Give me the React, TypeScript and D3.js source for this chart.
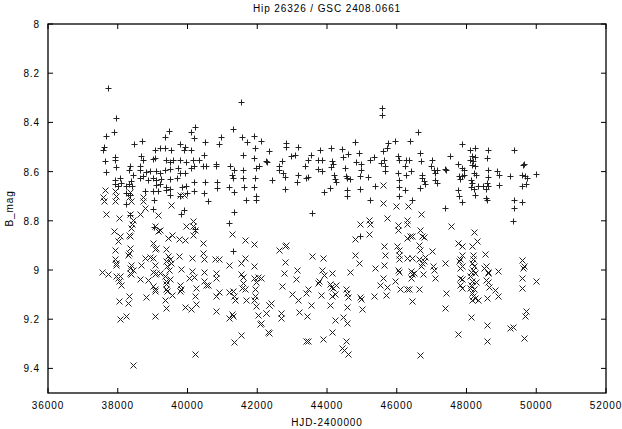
import React from "react";
import * as d3 from "d3";

const title = "Hip 26326 / GSC 2408.0661";
const xLabel = "HJD-2400000";
const yLabel = "B_mag";
const xTicks = [36000, 38000, 40000, 42000, 44000, 46000, 48000, 50000, 52000];
const yTicks = [8, 8.2, 8.4, 8.6, 8.8, 9, 9.2, 9.4];

// upper band, drawn with "+"
const plusPoints: [number, number][] = [
  [37724, 8.262], [37943, 8.383], [37886, 8.437], [37657, 8.457], [37600, 8.5], [37581, 8.511],
  [37638, 8.558], [37676, 8.602], [37914, 8.541], [37914, 8.552], [37962, 8.581], [38457, 8.489],
  [38686, 8.477], [38343, 8.576], [38324, 8.592], [38629, 8.579], [38676, 8.538], [38724, 8.552],
  [38648, 8.592], [38438, 8.612], [38800, 8.603], [37914, 8.633], [38057, 8.626], [37914, 8.649],
  [38105, 8.646], [38324, 8.649], [38390, 8.639], [38419, 8.657], [38248, 8.66], [38019, 8.66],
  [38724, 8.619], [38629, 8.626], [38867, 8.635], [39010, 8.626], [39105, 8.635], [39248, 8.63],
  [39486, 8.63], [39695, 8.626], [39010, 8.549], [39067, 8.543], [39200, 8.504], [39352, 8.506],
  [39533, 8.514], [39067, 8.512], [39362, 8.461], [39467, 8.435], [39391, 8.552], [39486, 8.56],
  [39581, 8.552], [39790, 8.552], [39962, 8.562], [39771, 8.487], [39933, 8.5], [39895, 8.512],
  [40105, 8.514], [40105, 8.437], [40229, 8.419], [40190, 8.465], [40495, 8.48], [40486, 8.531],
  [40152, 8.552], [40343, 8.552], [40200, 8.579], [40105, 8.585], [40438, 8.579], [40533, 8.579],
  [38914, 8.598], [39105, 8.598], [39200, 8.606], [39343, 8.595], [39486, 8.589], [39724, 8.585],
  [39771, 8.606], [39914, 8.606], [40819, 8.568], [40819, 8.579], [40962, 8.461], [40895, 8.488],
  [41314, 8.426], [41533, 8.319], [41552, 8.461], [41695, 8.481], [41914, 8.454], [42105, 8.477],
  [41933, 8.504], [41581, 8.533], [41895, 8.545], [42248, 8.558], [42057, 8.576], [41962, 8.585],
  [41229, 8.576], [41343, 8.592], [41581, 8.592], [39086, 8.653], [39219, 8.649], [39391, 8.664],
  [39486, 8.671], [39848, 8.664], [39962, 8.66], [40181, 8.644], [40514, 8.644], [40848, 8.644],
  [40838, 8.667], [41200, 8.662], [41314, 8.625], [41276, 8.612], [41581, 8.626], [41629, 8.662],
  [41905, 8.662], [41933, 8.626], [38248, 8.687], [38343, 8.694], [38790, 8.68], [39010, 8.68],
  [39152, 8.677], [39391, 8.673], [39486, 8.694], [39771, 8.7], [39981, 8.687], [40200, 8.68],
  [40486, 8.687], [40581, 8.721], [41343, 8.684], [41676, 8.714], [41962, 8.714], [41962, 8.698],
  [41343, 8.764], [39819, 8.771], [39886, 8.757], [39029, 8.714], [39010, 8.754], [38248, 8.73],
  [38343, 8.775], [39038, 8.825], [41181, 8.809], [41314, 8.924], [40229, 8.833],
  [42267, 8.562], [42343, 8.518], [42419, 8.635], [42628, 8.579], [42628, 8.592], [42705, 8.558],
  [42743, 8.606], [42800, 8.622], [42800, 8.671], [42819, 8.484], [42838, 8.5], [42962, 8.538],
  [43086, 8.531], [43181, 8.5], [43181, 8.612], [43152, 8.644], [43371, 8.576], [43409, 8.626],
  [43467, 8.622], [43467, 8.552], [43533, 8.531], [43562, 8.768], [43752, 8.552], [43800, 8.511],
  [43752, 8.589], [43867, 8.552], [43867, 8.599], [43914, 8.683], [44076, 8.667], [44105, 8.504],
  [44133, 8.558], [44105, 8.581], [44171, 8.568], [44200, 8.612], [44228, 8.63], [44267, 8.644],
  [44438, 8.508], [44457, 8.541], [44514, 8.585], [44552, 8.619], [44609, 8.527], [44581, 8.626],
  [44647, 8.63], [44581, 8.673], [44581, 8.698], [44800, 8.481], [44819, 8.562], [44914, 8.525],
  [44962, 8.568], [44962, 8.592], [44933, 8.619], [44943, 8.671], [45181, 8.622], [45219, 8.554],
  [45247, 8.717], [45343, 8.541], [45371, 8.66], [45562, 8.565], [45581, 8.342], [45581, 8.369],
  [45600, 8.518], [45628, 8.552], [45657, 8.579], [45676, 8.599], [45724, 8.504], [45752, 8.484],
  [45943, 8.477], [46038, 8.538], [46057, 8.552], [46057, 8.662], [46057, 8.7], [46038, 8.606],
  [46076, 8.635], [46267, 8.552], [46248, 8.579], [46267, 8.612], [46248, 8.673], [46343, 8.552],
  [46390, 8.477], [46419, 8.599], [46438, 8.714], [46609, 8.439], [46676, 8.525], [46705, 8.558],
  [46724, 8.612], [46724, 8.626], [46676, 8.667], [46771, 8.639], [46800, 8.649], [47010, 8.552],
  [46990, 8.576], [47057, 8.592], [47086, 8.606], [47152, 8.595], [47105, 8.633], [47152, 8.646],
  [44933, 8.86],
  [47885, 8.488], [48105, 8.514], [48247, 8.504], [48628, 8.514], [49371, 8.514], [47533, 8.535],
  [47371, 8.589], [47409, 8.592], [47752, 8.568], [47866, 8.585], [47914, 8.592], [48105, 8.552],
  [48152, 8.538], [48200, 8.558], [48247, 8.541], [48171, 8.572], [48247, 8.579], [48228, 8.606],
  [48266, 8.612], [48133, 8.633], [48152, 8.646], [48133, 8.662], [48228, 8.671], [48343, 8.657],
  [48247, 8.694], [47819, 8.63], [47771, 8.619], [47866, 8.616], [47914, 8.612], [47752, 8.673],
  [47790, 8.698], [47885, 8.725], [47371, 8.748], [48581, 8.546], [48609, 8.595], [48628, 8.622],
  [48581, 8.646], [48485, 8.657], [48609, 8.657], [48552, 8.671], [48552, 8.707], [48581, 8.714],
  [48866, 8.599], [48933, 8.612], [48933, 8.653], [49247, 8.616], [49657, 8.568], [49628, 8.572],
  [49581, 8.612], [49676, 8.619], [49724, 8.626], [49695, 8.649], [49600, 8.66], [50000, 8.61],
  [49371, 8.717], [49371, 8.748], [49600, 8.723], [49343, 8.802],
];

// lower band, drawn with "x"
const crossPoints: [number, number][] = [
  [37629, 8.676], [37581, 8.703], [37914, 8.68], [37943, 8.7], [38343, 8.684], [38324, 8.703],
  [38724, 8.703], [39771, 8.694], [39895, 8.694],
  [37600, 8.721], [37914, 8.721], [38390, 8.721], [38724, 8.721], [37676, 8.771], [38038, 8.788],
  [38343, 8.771], [38629, 8.771], [38771, 8.748], [39152, 8.775], [39533, 8.734], [38438, 8.795],
  [38419, 8.811], [38390, 8.829], [37886, 8.842], [38057, 8.863], [38010, 8.883], [38324, 8.856],
  [38362, 8.863], [39057, 8.822], [39152, 8.842], [39200, 8.836], [39943, 8.822], [40152, 8.802],
  [40152, 8.822], [40229, 8.838], [40152, 8.856], [39438, 8.87], [39562, 8.856], [39752, 8.874],
  [39914, 8.879], [40457, 8.89], [41657, 8.879], [41914, 8.894], [41276, 8.853], [37914, 8.917],
  [38343, 8.91], [38324, 8.93], [38295, 8.937], [39010, 8.892], [39057, 8.914], [39105, 8.91],
  [39391, 8.914], [39438, 8.944], [39752, 8.944], [40133, 8.951], [40457, 8.93], [40486, 8.957],
  [40800, 8.957], [40895, 8.955], [41200, 8.978], [41533, 8.971], [41657, 8.951], [41914, 8.984],
  [37914, 8.957], [37943, 8.971], [37962, 8.978], [38390, 8.978], [38343, 8.991], [38438, 8.998],
  [38676, 8.978], [38771, 8.951], [38914, 8.947], [39010, 8.951], [39057, 8.978], [39391, 8.964],
  [39486, 8.957], [39533, 8.971], [39419, 8.984], [39467, 8.998], [39800, 8.995], [40133, 9.005],
  [37562, 9.009], [37724, 9.018], [37962, 9.025], [38010, 9.032], [38057, 9.025], [38038, 9.045],
  [38105, 9.063], [38343, 9.011], [38390, 9.018], [38629, 9.038], [38867, 9.041], [39010, 9.009],
  [39057, 9.018], [39105, 9.011], [39200, 9.014], [39343, 9.025], [39486, 9.038], [39391, 9.045],
  [39371, 9.055], [39771, 9.059], [39819, 9.079], [40057, 9.032], [40200, 9.028], [40486, 9.009],
  [40486, 9.043], [40533, 9.059], [40581, 9.063], [40819, 9.014], [40819, 9.032], [40914, 9.09],
  [40819, 9.106], [41200, 9.09], [41295, 9.086], [41343, 9.106], [41371, 9.12], [41533, 9.018],
  [41581, 9.028], [41581, 9.052], [41562, 9.072], [41657, 9.076], [41676, 9.122], [41914, 9.032],
  [42010, 9.029], [41962, 9.049], [41943, 9.079], [41943, 9.106], [41914, 9.122], [41962, 9.147],
  [42343, 9.144], [42248, 9.174], [42010, 9.184], [42086, 9.218], [42295, 9.252], [39010, 9.066],
  [39057, 9.079], [39057, 9.086], [39391, 9.076], [39410, 9.086], [39343, 9.12], [39562, 9.103],
  [39771, 9.086], [40248, 9.072], [40229, 9.106], [40248, 9.14], [40105, 9.16], [39914, 9.149],
  [38800, 9.11], [38324, 9.106], [38295, 9.136], [38038, 9.126], [38248, 9.187], [38076, 9.201],
  [39057, 9.187], [39391, 9.153], [40819, 9.167], [41200, 9.194], [41276, 9.18], [41314, 9.187],
  [41533, 9.266], [41343, 9.291], [40229, 9.343], [38438, 9.386],
  [45600, 8.653],
  [42105, 9.032], [42628, 8.92], [42800, 8.901], [42838, 8.897], [42800, 8.968], [42771, 9.014],
  [42724, 9.066], [43152, 8.998], [43105, 9.038], [42390, 9.136], [42324, 9.144], [42248, 9.174],
  [42105, 9.214], [42676, 9.174], [42676, 9.194], [42324, 9.255], [42990, 9.099], [43181, 9.122],
  [43200, 9.171], [43390, 9.095], [43467, 9.076], [43438, 9.187], [43533, 9.144], [43562, 8.944],
  [43752, 9.052], [43771, 9.045], [43848, 8.998], [43886, 8.952], [43914, 9.022], [43819, 9.103],
  [44086, 9.055], [44133, 9.014], [44105, 9.068], [44171, 9.072], [44248, 9.063], [44133, 9.106],
  [44228, 9.099], [44076, 9.144], [44228, 9.203], [44552, 9.079], [44581, 9.093], [44590, 9.109],
  [44581, 9.149], [44457, 9.19], [44581, 9.217], [44648, 9.009], [44800, 8.874], [44800, 8.937],
  [44914, 8.971], [44943, 8.811], [44933, 9.109], [44962, 9.117], [44990, 9.157], [45200, 8.795],
  [45219, 8.815], [45200, 8.853], [45343, 9.106], [45371, 8.991], [45628, 8.903], [45657, 8.937],
  [45628, 8.978], [45600, 9.033], [45533, 9.06], [45724, 9.068], [45705, 9.103], [45733, 8.787],
  [45981, 8.738], [46038, 8.819], [46038, 8.838], [46010, 8.901], [46057, 8.917], [46057, 8.937],
  [46057, 8.955], [46038, 8.998], [46076, 9.009], [45943, 9.045], [46105, 9.076], [46295, 9.079],
  [46343, 9.079], [46390, 8.86], [46295, 8.869], [46438, 8.86], [46305, 8.798], [46305, 8.815],
  [46324, 8.741], [46438, 8.951], [46295, 8.951], [46419, 9.005], [46419, 9.032], [46438, 9.018],
  [46486, 9.011], [46628, 9.079], [46676, 8.838], [46724, 8.863], [46771, 8.865], [46628, 8.897],
  [46676, 8.917], [46648, 8.957], [46724, 8.971], [46771, 8.964], [46800, 8.947], [46705, 8.984],
  [46743, 9.018], [46438, 9.126], [47010, 8.924], [47028, 8.984], [47057, 9.001], [47105, 9.032],
  [46676, 9.345], [43390, 9.289], [43467, 9.289], [43886, 9.282], [44133, 9.252], [44438, 9.316],
  [44486, 9.325], [44552, 9.289], [44609, 9.343], [45600, 8.728], [46695, 8.772],
  [47543, 8.822], [48228, 8.846], [47752, 8.89], [47866, 8.903], [48171, 8.901], [48295, 8.883],
  [47866, 8.941], [48200, 8.937], [48533, 8.933], [47819, 8.955], [47790, 8.964], [47866, 8.984],
  [47819, 8.991], [48200, 8.957], [48152, 8.971], [48228, 8.984], [48200, 9.001], [48247, 9.011],
  [48133, 9.009], [48552, 8.982], [48514, 8.991], [48609, 9.009], [48628, 9.014], [48914, 9.005],
  [47371, 8.971], [47819, 9.032], [47866, 9.038], [47819, 9.059], [47866, 9.072], [48105, 9.025],
  [48152, 9.045], [48266, 9.049], [48133, 9.063], [48105, 9.072], [48228, 9.079], [48152, 9.095],
  [48200, 9.106], [48247, 9.113], [48324, 9.12], [48152, 9.12], [48552, 9.041], [48609, 9.049],
  [48648, 9.068], [48819, 9.082], [48914, 9.106], [48581, 9.114], [47409, 9.095], [47371, 9.153],
  [48133, 9.19], [48581, 9.225], [47752, 9.262], [48581, 9.29], [49247, 9.235], [49343, 9.232],
  [49657, 9.275], [49676, 9.187], [49695, 9.167], [49600, 8.96], [49657, 8.984], [49628, 8.991],
  [49600, 9.034], [49581, 9.072], [50000, 9.043],
];

const W = 622;
const H = 429;
const margin = { left: 48, right: 16, top: 24, bottom: 36 };
const font = "'Liberation Sans', Arial, Helvetica, sans-serif";

export default function App() {
  const x = d3.scaleLinear().domain([36000, 52000]).range([margin.left, W - margin.right]);
  const y = d3.scaleLinear().domain([8, 9.5]).range([margin.top, H - margin.bottom]);
  const [x0, x1] = x.range();
  const [y0, y1] = y.range();
  const s = 3;

  const plusPath = plusPoints
    .map(([h, m]) => {
      const px = Math.round(x(h)) + 0.5;
      const py = Math.round(y(m)) + 0.5;
      return `M${px - s},${py}h${2 * s}M${px},${py - s}v${2 * s}`;
    })
    .join("");
  const crossPath = crossPoints
    .map(([h, m]) => {
      const px = Math.round(x(h)) + 0.5;
      const py = Math.round(y(m)) + 0.5;
      return `M${px - s},${py - s}l${2 * s},${2 * s}M${px - s},${py + s}l${2 * s},${-2 * s}`;
    })
    .join("");

  const tick = 5;

  return (
    <svg
      width={W}
      height={H}
      style={{ position: "absolute", left: 0, top: 0, background: "#fff" }}
      fontFamily={font}
      fontSize={10}
      letterSpacing={0.9}
    >
      <rect x={0} y={0} width={W} height={H} fill="#fff" />
      <text x={(x0 + x1) / 2} y={12} textAnchor="middle" fill="#000">
        {title}
      </text>

      {/* x ticks, bottom and mirrored top */}
      {xTicks.map((t) => (
        <g key={"x" + t}>
          <line x1={x(t)} x2={x(t)} y1={y1} y2={y1 - tick} stroke="#000" />
          <line x1={x(t)} x2={x(t)} y1={y0} y2={y0 + tick} stroke="#000" />
          <text x={x(t)} y={y1 + 16} textAnchor="middle" fill="#000">
            {t}
          </text>
        </g>
      ))}

      {/* y ticks, left and mirrored right */}
      {yTicks.map((t) => (
        <g key={"y" + t}>
          <line x1={x0} x2={x0 + tick} y1={y(t)} y2={y(t)} stroke="#000" />
          <line x1={x1} x2={x1 - tick} y1={y(t)} y2={y(t)} stroke="#000" />
          <text x={x0 - 8} y={y(t) + 4} textAnchor="end" fill="#000">
            {d3.format("")(t)}
          </text>
        </g>
      ))}

      <path d={plusPath} stroke="#222" strokeWidth={1} fill="none" />
      <path d={crossPath} stroke="#222" strokeWidth={1} fill="none" />

      <rect x={x0} y={y0} width={x1 - x0} height={y1 - y0} fill="none" stroke="#000" strokeWidth={1.3} />

      <text x={(x0 + x1) / 2} y={H - 3} textAnchor="middle" fill="#000">
        {xLabel}
      </text>
      <text transform={`translate(13,${(y0 + y1) / 2}) rotate(-90)`} textAnchor="middle" fill="#000">
        {yLabel}
      </text>
    </svg>
  );
}
